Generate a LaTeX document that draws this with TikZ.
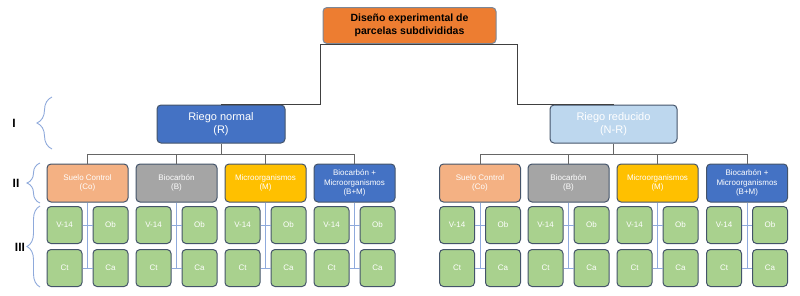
\documentclass[tikz,border=0pt]{standalone}
\usepackage{fontspec}
\setmainfont{Liberation Sans}
\usetikzlibrary{decorations.pathreplacing,calc}
\definecolor{cTop}{HTML}{ED7D31}
\definecolor{cBlue}{HTML}{4472C4}
\definecolor{cLight}{HTML}{BDD7EE}
\definecolor{cCo}{HTML}{F4B183}
\definecolor{cGray}{HTML}{A5A5A5}
\definecolor{cYel}{HTML}{FFC000}
\definecolor{cGreen}{HTML}{A9D18E}
\definecolor{cBorder}{HTML}{44546A}
\definecolor{cLine}{HTML}{8FAADC}
\definecolor{cConn}{HTML}{404040}
\definecolor{cBrace}{HTML}{8EA9DB}
\tikzset{
  box/.style={draw=cBorder, line width=1pt, rounded corners=4pt, inner sep=0pt,
    align=center, text=white, font=\fontsize{8}{9.5}\selectfont},
  topbox/.style={box, fill=cTop, draw=cBorder!70, text=black,
    font=\fontsize{10.5}{12.5}\selectfont\bfseries, minimum width=173pt, minimum height=36pt},
  riego/.style={box, font=\fontsize{11}{13}\selectfont, minimum width=128pt, minimum height=38pt},
  lvtwo/.style={box, minimum width=81pt, minimum height=38pt},
  lvthree/.style={box, fill=cGreen, minimum width=35pt, minimum height=37pt},
  conn/.style={draw=cConn, line width=1pt},
  bus/.style={draw=cConn!80, line width=0.8pt},
  sub/.style={draw=cLine, line width=1pt},
  bracestyle/.style={draw=cBrace, line width=0.9pt, decorate,
    decoration={brace, amplitude=#1, aspect=0.5}},
  lvlabel/.style={font=\fontsize{12}{14}\selectfont\bfseries, text=black, inner sep=0pt}
}
\begin{document}
\begin{tikzpicture}[x=1pt,y=-1pt]
\useasboundingbox (0,0) rectangle (800,295);
% top
\node[topbox] (top) at (409.5,25.5) {Diseño experimental de\\parcelas subdivididas};
\node[riego, fill=cBlue] (rn) at (221,124) {Riego normal\\(R)};
\node[riego, fill=cLight, minimum width=127pt] (rr) at (613.5,124) {Riego reducido\\(N-R)};
\coordinate (tl) at ([xshift=-2pt]top.south west);
\coordinate (tr) at ([xshift=21pt]top.south east);
\draw[conn] (rn.north) -| (tl) -- (tr) |- (rr.north);
% level II and III
\foreach \s/\p/\xa/\xb/\xc/\xd in {a/rn/87.5/176.5/265.5/354.5, b/rr/480/568.5/657.5/747}{
  \node[lvtwo, fill=cCo] (\s1) at (\xa,183) {Suelo Control\\(Co)};
  \node[lvtwo, fill=cGray] (\s2) at (\xb,183) {Biocarbón\\(B)};
  \node[lvtwo, fill=cYel] (\s3) at (\xc,183) {Microorganismos\\(M)};
  \node[lvtwo, fill=cBlue] (\s4) at (\xd,183) {Biocarbón +\\Microorganismos\\(B+M)};
  \coordinate (\s-bus) at (0,154);
  \draw[bus] (\p.south) -- (\p.south |- \s-bus);
  \draw[bus] (\s1.north) -- (\s1.north |- \s-bus) -- (\s4.north |- \s-bus) -- (\s4.north);
  \draw[bus] (\s2.north) -- (\s2.north |- \s-bus);
  \draw[bus] (\s3.north) -- (\s3.north |- \s-bus);
  \foreach \i/\x in {1/\xa,2/\xb,3/\xc,4/\xd}{
    \node[lvthree] (\s\i v) at (\x-23,225) {V-14};
    \node[lvthree] (\s\i o) at (\x+23,225) {Ob};
    \node[lvthree] (\s\i c) at (\x-23,268) {Ct};
    \node[lvthree] (\s\i a) at (\x+23,268) {Ca};
    \draw[sub] (\s\i.south) -- (\s\i.south |- \s\i c.east);
    \draw[sub] (\s\i v.east) -- (\s\i o.west);
    \draw[sub] (\s\i c.east) -- (\s\i a.west);
  }
}
% braces and level labels
\coordinate (bIa) at (52,149); \coordinate (bIb) at (52,97);
\coordinate (bIIa) at (40,203); \coordinate (bIIb) at (40,163);
\coordinate (bIIIa) at (40,287); \coordinate (bIIIb) at (40,206);
\draw[bracestyle=15pt] (bIa) -- (bIb);
\draw[bracestyle=13pt] (bIIa) -- (bIIb);
\draw[bracestyle=13pt] (bIIIa) -- (bIIIb);
\node[lvlabel] (lI) at (14,123) {I};
\node[lvlabel] (lII) at (16,183) {II};
\node[lvlabel] (lIII) at (20,247) {III};
\end{tikzpicture}
\end{document}
